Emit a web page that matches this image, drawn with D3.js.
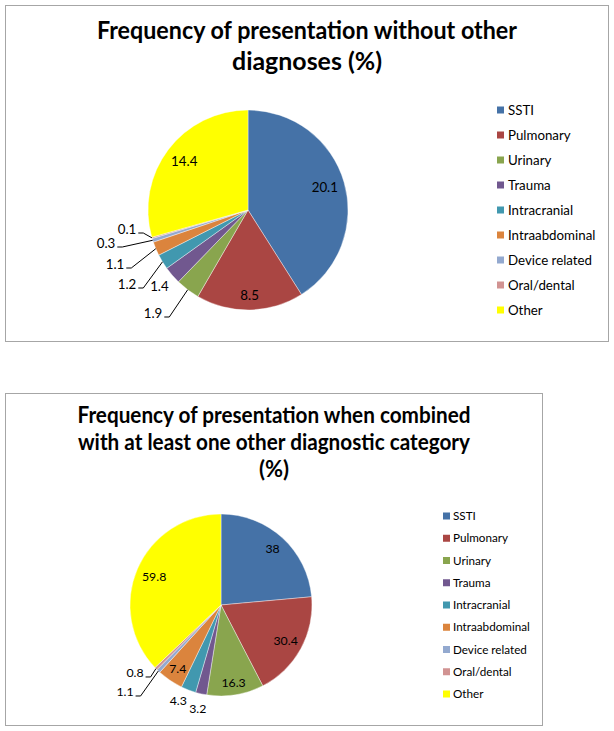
<!DOCTYPE html>
<html>
<head>
<meta charset="utf-8">
<script src="https://cdn.jsdelivr.net/npm/d3@7"></script>
<style>
  html, body { margin: 0; padding: 0; background: #fff; }
  svg { display: block; font-family: Lato, "Open Sans", sans-serif; }
</style>
</head>
<body>
<svg id="chart" width="614" height="731"></svg>
<script>
// ---------- data ----------
const categories = ["SSTI", "Pulmonary", "Urinary", "Trauma", "Intracranial",
                    "Intraabdominal", "Device related", "Oral/dental", "Other"];
const valuesAlone    = [20.1, 8.5, 1.9, 1.4, 1.2, 1.1, 0.3, 0.1, 14.4];
const valuesCombined = [38, 30.4, 16.3, 3.2, 4.3, 7.4, 1.1, 0.8, 59.8];
const titleAlone    = ["Frequency of presentation without other", "diagnoses (%)"];
const titleCombined = ["Frequency of presentation when combined",
                       "with at least one other diagnostic category", "(%)"];

// ---------- styles / layout ----------
const palette = ["#4572A7", "#AA4643", "#89A54E", "#71588F", "#4198AF",
                 "#DB843D", "#93A9CF", "#D19392", "#FFFF00"];

// label placement: along the slice middle ("in"), free offset ("at"), or with a leader line ("lead")
const labelsAlone = [
  {mode: "in", k: 0.80}, {mode: "in", k: 0.85}, {mode: "lead", dx: -0.95, dy: 1.03},
  {mode: "in", k: 1.17}, {mode: "lead", dx: -1.21, dy: 0.74}, {mode: "lead", dx: -1.33, dy: 0.54},
  {mode: "lead", dx: -1.42, dy: 0.33}, {mode: "lead", dx: -1.21, dy: 0.19}, {mode: "in", k: 0.80}
];
const labelsCombined = [
  {mode: "in", k: 0.84}, {mode: "in", k: 0.81}, {mode: "in", k: 0.87},
  {mode: "in", k: 1.17}, {mode: "at", dx: -0.47, dy: 1.055}, {mode: "in", k: 0.85},
  {mode: "lead", dx: -1.055, dy: 0.956}, {mode: "lead", dx: -0.945, dy: 0.747}, {mode: "in", k: 0.80}
];

const charts = [
  {
    values: valuesAlone, title: titleAlone, labels: labelsAlone,
    box: {x: 5.5, y: 5.5, w: 603, h: 336},
    titleX: 307, titleY: 39, titleSize: 24, titleLH: 31, titleW: [420, 150],
    cx: 248, cy: 210, r: 100, labelSize: 13.3,
    legend: {x: 497, y: 110, step: 25, sq: 7, size: 13.3, textX: 508}
  },
  {
    values: valuesCombined, title: titleCombined, labels: labelsCombined,
    box: {x: 5.5, y: 393.5, w: 537, h: 332},
    titleX: 274, titleY: 423, titleSize: 22, titleLH: 27, titleW: [393, 392, 0],
    cx: 221, cy: 605, r: 91, labelSize: 12.3,
    legend: {x: 443, y: 516, step: 22.25, sq: 7, size: 11.7, textX: 453}
  }
];

const svg = d3.select("#chart");
const color = d3.scaleOrdinal().domain(categories).range(palette);

charts.forEach(c => {
  const g = svg.append("g");

  // frame
  g.append("rect")
    .attr("x", c.box.x).attr("y", c.box.y)
    .attr("width", c.box.w).attr("height", c.box.h)
    .attr("fill", "#fff").attr("stroke", "#a6a6a6").attr("stroke-width", 1);

  // title
  c.title.forEach((line, i) => {
    const t = g.append("text")
      .attr("x", c.titleX).attr("y", c.titleY + i * c.titleLH)
      .attr("text-anchor", "middle")
      .attr("font-size", c.titleSize).attr("font-weight", "bold")
      .attr("fill", "#000")
      .text(line);
    if (c.titleW[i]) t.attr("textLength", c.titleW[i]).attr("lengthAdjust", "spacingAndGlyphs");
  });

  // pie
  const data = categories.map((name, i) => ({name, value: c.values[i], i}));
  const pie = d3.pie().value(d => d.value).sort(null);
  const arcs = pie(data);
  const arc = d3.arc().innerRadius(0).outerRadius(c.r);
  const pg = g.append("g").attr("transform", `translate(${c.cx},${c.cy})`);

  pg.selectAll("path.slice").data(arcs).join("path")
    .attr("class", "slice")
    .attr("d", arc)
    .attr("fill", d => color(d.data.name))
    .attr("stroke", "#fff").attr("stroke-width", 0.4);

  // labels
  arcs.forEach((a, i) => {
    const L = c.labels[i];
    const mid = (a.startAngle + a.endAngle) / 2;
    const txt = String(a.data.value);
    if (L.mode === "in") {
      const rr = c.r * L.k;
      const pos = d3.arc().innerRadius(rr).outerRadius(rr).centroid(a);
      pg.append("text")
        .attr("x", pos[0]).attr("y", pos[1]).attr("dy", "0.35em")
        .attr("text-anchor", "middle")
        .attr("font-size", c.labelSize).attr("fill", "#000")
        .text(txt);
    } else {
      const lx = L.dx * c.r, ly = L.dy * c.r;
      const t = pg.append("text")
        .attr("x", lx).attr("y", ly).attr("dy", "0.35em")
        .attr("text-anchor", "middle")
        .attr("font-size", c.labelSize).attr("fill", "#000")
        .text(txt);
      if (L.mode === "lead") {
        const w = t.node().getComputedTextLength();
        const rim = [Math.sin(mid) * c.r, -Math.cos(mid) * c.r];
        const sx = lx + w / 2 + 2, sy = ly + 4;
        pg.append("path")
          .attr("d", d3.line()([[sx, sy], [sx + 5, sy], rim]))
          .attr("fill", "none").attr("stroke", "#000").attr("stroke-width", 1);
      }
    }
  });

  // legend
  const lg = g.append("g");
  categories.forEach((name, i) => {
    const y = c.legend.y + i * c.legend.step;
    lg.append("rect")
      .attr("x", c.legend.x).attr("y", y - c.legend.sq / 2)
      .attr("width", c.legend.sq).attr("height", c.legend.sq)
      .attr("fill", color(name));
    lg.append("text")
      .attr("x", c.legend.textX).attr("y", y).attr("dy", "0.35em")
      .attr("font-size", c.legend.size).attr("fill", "#000")
      .text(name);
  });
});
</script>
</body>
</html>
